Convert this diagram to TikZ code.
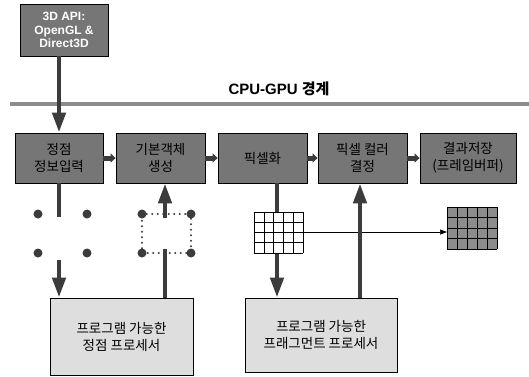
\documentclass[tikz,border=0pt]{standalone}
\usepackage{fontspec}
\setmainfont{Liberation Sans}
\newfontfamily\kr{Noto Sans CJK KR}
\usetikzlibrary{arrows.meta}
\definecolor{boxgray}{RGB}{118,118,118}
\definecolor{lightbox}{RGB}{222,222,222}
\definecolor{arrowgray}{RGB}{60,60,60}
\begin{document}
\begin{tikzpicture}[x=1pt,y=-1pt,
  stage/.style={draw=black, line width=0.8pt, fill=boxgray, align=center, inner sep=1pt, font=\kr\fontsize{13.5}{17}\selectfont, text=black},
  procbox/.style={draw=black, line width=0.8pt, fill=lightbox, align=center, inner sep=1pt, font=\kr\fontsize{13.5}{17}\selectfont},
  bigarrow/.style={draw=arrowgray, line width=4.5pt, -{Triangle[length=20pt,width=13pt]}},
  shaft/.style={draw=arrowgray, line width=4.5pt},
  smallarrow/.style={draw=arrowgray, line width=5pt, -{Triangle[length=5pt,width=9pt]}},
  dot/.style={circle, fill=arrowgray, inner sep=0pt, minimum size=9pt},
  thinarrow/.style={draw=black, line width=0.6pt, -{Triangle[length=7pt,width=5pt]}},
  gridline/.style={draw=black, line width=0.6pt}
]
\useasboundingbox (0,0) rectangle (529,376);

% CPU side
\node[draw=black, line width=0.8pt, fill=boxgray, minimum width=88pt, minimum height=52pt, align=center,
      font=\bfseries\fontsize{12}{13.5}\selectfont, text=white] (api) at (64,30) {3D API:\\OpenGL \&\\Direct3D};

% boundary
\coordinate (bl) at (10,104);
\coordinate (br) at (529,104);
\draw[line width=3.5pt, black!45] (bl) -- (br);
\node[font=\bfseries\fontsize{15}{17}\selectfont] (cg) at (279,89) {CPU-GPU {\kr 경계}};

% pipeline stages
\node[stage, minimum width=88pt, minimum height=50pt] (b1) at (59,158) {정점\\정보입력};
\node[stage, minimum width=89pt, minimum height=50pt] (b2) at (160.5,158) {기본객체\\생성};
\node[stage, minimum width=89pt, minimum height=50pt] (b3) at (262.5,158) {픽셀화};
\node[stage, minimum width=89pt, minimum height=50pt] (b4) at (362.5,158) {픽셀 컬러\\결정};
\node[stage, minimum width=96pt, minimum height=50pt] (b5) at (468,158) {결과저장\\(프레임버퍼)};

\draw[bigarrow] (api.south -| b1.north) -- (b1.north);
\draw[smallarrow] (b1.east) -- (b2.west);
\draw[smallarrow] (b2.east) -- (b3.west);
\draw[smallarrow] (b3.east) -- (b4.west);
\draw[smallarrow] (b4.east) -- (b5.west);

% programmable processors
\node[procbox, minimum width=143pt, minimum height=77pt] (pa) at (121.5,336.5) {프로그램 가능한\\정점 프로세서};
\node[procbox, minimum width=152pt, minimum height=74pt] (pb) at (321,335) {프로그램 가능한\\프래그먼트 프로세서};

% vertex column
\coordinate (v1) at (59,217);
\coordinate (v2) at (59,260);
\draw[shaft] (b1.south) -- (v1);
\draw[bigarrow] (v2) -- (v2 |- pa.north);
\node[dot] (d1) at (38,214) {};
\node[dot] (d2) at (87,214) {};
\node[dot] (d3) at (38,253) {};
\node[dot] (d4) at (87,253) {};

% primitive column
\coordinate (p0) at (165,298);
\draw[bigarrow] (p0) -- (p0 |- b2.south);
\fill[white] (144,218) rectangle (189,249);
\node[dot] (s1) at (142,214) {};
\node[dot] (s2) at (191,214) {};
\node[dot] (s3) at (142,253) {};
\node[dot] (s4) at (191,253) {};
\draw[arrowgray, line width=2.2pt, dash pattern=on 0pt off 5.5pt, line cap=round] (s1) -- (s2) -- (s4) -- (s3) -- (s1);

% raster column
\coordinate (r0) at (277,183);
\draw[bigarrow] (b3.south -| r0) -- (r0 |- pb.north);
\fill[white] (254,212) rectangle (303,253);
\foreach \i in {0,...,5} { \draw[gridline] ({254+9.8*\i},212) -- ({254+9.8*\i},253); }
\foreach \j in {0,...,4} { \draw[gridline] (254,{212+10.25*\j}) -- (303,{212+10.25*\j}); }
\coordinate (g1) at (303,232);
\coordinate (g2) at (447,232);
\draw[thinarrow] (g1) -- (g2);

% fragment column
\coordinate (f0) at (360,298);
\draw[bigarrow] (f0) -- (f0 |- b4.south);

% framebuffer grid
\fill[black!45] (447,207) rectangle (497,249);
\foreach \i in {0,...,5} { \draw[gridline] ({447+10*\i},207) -- ({447+10*\i},249); }
\foreach \j in {0,...,4} { \draw[gridline] (447,{207+10.5*\j}) -- (497,{207+10.5*\j}); }
\end{tikzpicture}
\end{document}
